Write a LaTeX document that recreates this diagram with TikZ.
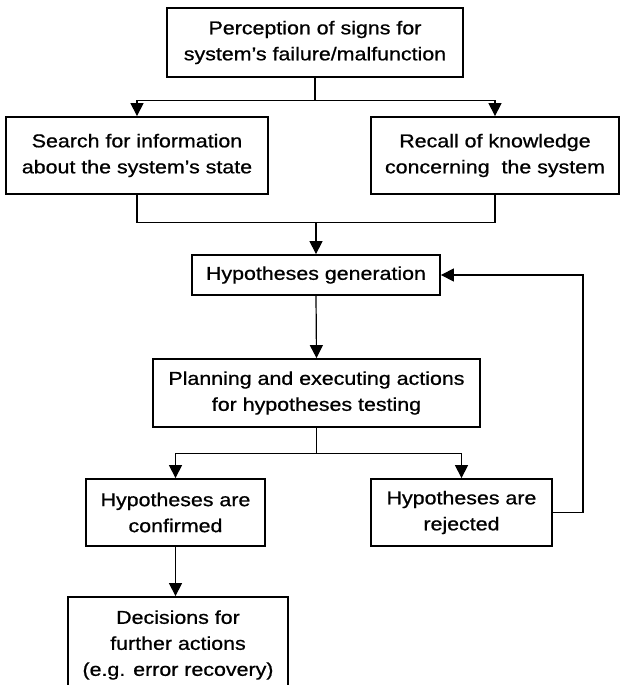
\documentclass[tikz,border=0pt]{standalone}
\usepackage{fontspec}
\setmainfont{Liberation Sans}[FakeStretch=1.15,FakeBold=0.8]
\usetikzlibrary{arrows.meta}
\begin{document}
\begin{tikzpicture}[x=1pt,y=-1pt,
  box/.style={draw, line width=1.8pt, align=center, inner sep=0pt,
    font=\fontsize{18.6}{26}\selectfont},
  link/.style={line width=1.2pt},
  arr/.style={link, -{Triangle[length=13pt,width=13pt]}}]
\useasboundingbox (0,0) rectangle (621,685);
\fill[white] (0,0) rectangle (621,685);

% boxes
\node[box, minimum width=296pt, minimum height=69pt] (percept) at (315,42.5)
  {Perception of signs for\\system's failure/malfunction};
\node[box, minimum width=262pt, minimum height=77pt] (search) at (137,155.5)
  {Search for information\\about the system's state};
\node[box, minimum width=248pt, minimum height=77pt] (recall) at (495,155.5)
  {Recall of knowledge\\concerning~ the system};
\node[box, minimum width=248pt, minimum height=40pt] (hypgen) at (316,275)
  {Hypotheses generation};
\node[box, minimum width=327pt, minimum height=68pt] (planning) at (316.5,393)
  {Planning and executing actions\\for hypotheses testing};
\node[box, minimum width=179pt, minimum height=67pt] (confirmed) at (175.5,512.5)
  {Hypotheses are\\confirmed};
\node[box, minimum width=181pt, minimum height=67pt] (rejected) at (461.5,512.5)
  {Hypotheses are\\rejected};
\node[box, minimum width=220pt, minimum height=96pt] (decisions) at (178,645)
  {Decisions for\\further actions\\(e.g. error recovery)};

% junction points
\coordinate (j1) at (315,100.7);
\coordinate (j2) at (316,222.7);
\coordinate (j3) at (316.5,453.3);
\coordinate (fb) at (583,512.5);

% connectors
\draw[link] (percept.south) -- (j1);
\draw[arr] (j1) -| (search.north);
\draw[arr] (j1) -| (recall.north);
\draw[link] (search.south) |- (j2);
\draw[link] (recall.south) |- (j2);
\draw[arr] (j2) -- (hypgen.north);
\draw[arr] (hypgen.south) -- (planning.north);
\draw[link] (planning.south) -- (j3);
\draw[arr] (j3) -| (confirmed.north);
\draw[arr] (j3) -| (rejected.north);
\draw[arr] (confirmed.south) -- (confirmed.south |- decisions.north);
\draw[arr] (rejected.east) -- (fb) |- (hypgen.east);
\end{tikzpicture}
\end{document}
